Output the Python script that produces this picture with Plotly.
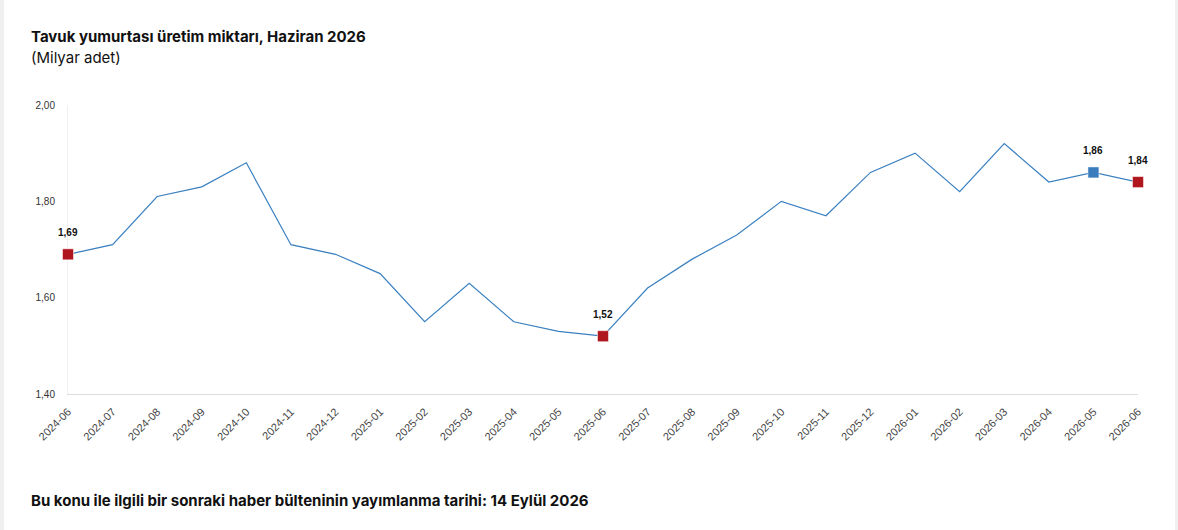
import plotly.graph_objects as go

months = ["2024-06", "2024-07", "2024-08", "2024-09", "2024-10", "2024-11", "2024-12",
          "2025-01", "2025-02", "2025-03", "2025-04", "2025-05", "2025-06", "2025-07",
          "2025-08", "2025-09", "2025-10", "2025-11", "2025-12", "2026-01", "2026-02",
          "2026-03", "2026-04", "2026-05", "2026-06"]
values = [1.69, 1.71, 1.81, 1.83, 1.88, 1.71, 1.69, 1.65, 1.55, 1.63, 1.55, 1.53, 1.52,
          1.62, 1.68, 1.73, 1.80, 1.77, 1.86, 1.90, 1.82, 1.92, 1.84, 1.86, 1.84]
red_idx = [0, 12, 24]
blue_idx = [23]
y_ticks = [1.40, 1.60, 1.80, 2.00]

W, H = 1178, 530
ML, MR, MT, MB = 68, 40, 105, 136
PW = W - ML - MR
PH = H - MT - MB

def px(xp):
    return (xp - ML) / PW

def py(yp):
    return 1 - (yp - MT) / PH

def label(v):
    return f"{v:.2f}".replace(".", ",")

fig = go.Figure()
fig.add_trace(go.Scatter(x=months, y=values, mode="lines",
                         line=dict(color="#3a80c0", width=1.2),
                         hoverinfo="skip", showlegend=False))

for idx, col in [(red_idx, "#b0161d"), (blue_idx, "#3a7dbc")]:
    fig.add_trace(go.Scatter(
        x=[months[i] for i in idx], y=[values[i] for i in idx],
        mode="markers",
        marker=dict(symbol="square", size=11, color=col,
                    line=dict(color="rgba(255,255,255,0.5)", width=1)),
        showlegend=False, hoverinfo="skip", cliponaxis=False))
    for i in idx:
        fig.add_annotation(x=months[i], y=values[i], text=f"<b>{label(values[i])}</b>",
                           showarrow=False, yshift=22, xanchor="center", yanchor="middle",
                           font=dict(family="Liberation Sans, Arial", size=10, color="#111111"))

fig.update_layout(
    width=W, height=H,
    margin=dict(l=ML, r=MR, t=MT, b=MB),
    paper_bgcolor="white", plot_bgcolor="white",
    separators=",.",
    font=dict(family="Liberation Sans, Arial", color="#333333"),
    xaxis=dict(type="category", range=[0, len(months) - 1], tickangle=-45,
               showgrid=False, zeroline=False, showline=True, linecolor="#dcdcdc",
               linewidth=1, ticks="", layer="below traces", ticklabelstandoff=6,
               tickfont=dict(size=11, color="#444444")),
    yaxis=dict(range=[1.40, 2.00], tickvals=y_ticks, tickformat=".2f",
               showgrid=False, zeroline=False, showline=True, linecolor="#eef0f4",
               linewidth=1, ticks="", ticklabelstandoff=10, layer="below traces",
               tickfont=dict(size=10, color="#333333")),
)

fig.add_annotation(xref="paper", yref="paper", x=px(29), y=py(36), xanchor="left", yanchor="middle",
                   text="<b>Tavuk yumurtası üretim miktarı, Haziran 2026</b>", showarrow=False,
                   font=dict(family="Inter", size=15, color="#111111"))
fig.add_annotation(xref="paper", yref="paper", x=px(29), y=py(58), xanchor="left", yanchor="middle",
                   text="(Milyar adet)", showarrow=False,
                   font=dict(family="Inter", size=15, color="#111111"))
fig.add_annotation(xref="paper", yref="paper", x=px(29), y=py(500), xanchor="left", yanchor="middle",
                   text="<b>Bu konu ile ilgili bir sonraki haber bülteninin yayımlanma tarihi: 14 Eylül 2026</b>",
                   showarrow=False, font=dict(family="Inter", size=15, color="#111111"))

# light gray page edges
fig.add_shape(type="rect", xref="paper", yref="paper", x0=px(0), x1=px(4), y0=py(H), y1=py(0),
              fillcolor="#f0f0f0", line=dict(width=0), layer="below")
fig.add_shape(type="rect", xref="paper", yref="paper", x0=px(1175), x1=px(W), y0=py(H), y1=py(0),
              fillcolor="#f0f0f0", line=dict(width=0), layer="below")

fig.write_html("out.html", config={"displayModeBar": False},
               post_script="document.body.style.margin='0';document.body.style.overflow='hidden';")
